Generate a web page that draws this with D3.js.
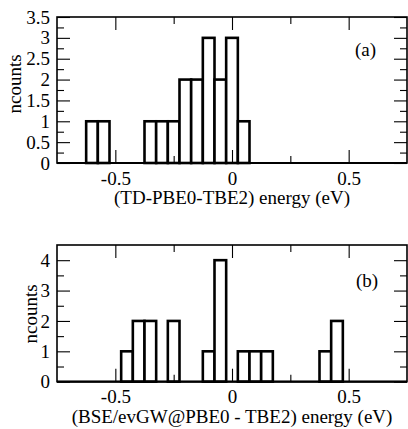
<!DOCTYPE html>
<html>
<head>
<meta charset="utf-8">
<script src="https://cdn.jsdelivr.net/npm/d3@7"></script>
<style>
  html, body { margin: 0; padding: 0; background: #fff; }
  svg { display: block; }
  text { font-family: "Liberation Serif", "Times New Roman", serif; fill: #000; }
</style>
</head>
<body>
<svg id="chart" width="408" height="429" font-family="Liberation Serif, serif"></svg>
<script>
// ---- data ----
const binWidth = 0.05;
const binCentersA = [-0.6, -0.55, -0.35, -0.3, -0.25, -0.2, -0.15, -0.1, -0.05, 0, 0.05];
const countsA     = [1, 1, 1, 1, 1, 2, 2, 3, 2, 3, 1];
const binCentersB = [-0.45, -0.4, -0.35, -0.25, -0.1, -0.05, 0.05, 0.1, 0.15, 0.4, 0.45];
const countsB     = [1, 2, 2, 2, 1, 4, 1, 1, 1, 1, 2];

const xMajor = [-0.5, 0, 0.5];
const xMinor = [-0.25, 0.25];
const yMajorA = [0, 0.5, 1, 1.5, 2, 2.5, 3, 3.5];
const yMinorA = [0.25, 0.75, 1.25, 1.75, 2.25, 2.75, 3.25];
const yMajorB = [0, 1, 2, 3, 4];
const yMinorB = [0.5, 1.5, 2.5, 3.5];

const xTitleA = "(TD-PBE0-TBE2) energy (eV)";
const xTitleB = "(BSE/evGW@PBE0 - TBE2) energy (eV)";
const yTitle = "ncounts";
const labelA = "(a)";
const labelB = "(b)";

// ---- drawing ----
const svg = d3.select("#chart");
const FS = 19;
const SERIF = '"Liberation Serif", "Times New Roman", serif';
const majorLen = 13, minorLen = 7;

function panel(cfg) {
  const x = d3.scaleLinear().domain([-0.75, 0.75]).range([57, 407]);
  const y = d3.scaleLinear().domain(cfg.yDomain).range([cfg.bottom, cfg.top]);
  const g = svg.append("g");

  // bars
  const bars = cfg.centers.map((c, i) => ({ c, n: cfg.counts[i] }));
  g.selectAll("rect.bar").data(bars).join("rect")
    .attr("class", "bar")
    .attr("x", d => x(d.c - binWidth / 2))
    .attr("width", d => x(d.c + binWidth / 2) - x(d.c - binWidth / 2))
    .attr("y", d => y(d.n))
    .attr("height", d => y(0) - y(d.n))
    .attr("fill", "#fff")
    .attr("stroke", "#000")
    .attr("stroke-width", 2.6);

  function styleAxis(sel) {
    sel.attr("font-family", null);
    sel.select(".domain").remove();
    sel.selectAll("line").attr("stroke", "#000").attr("stroke-width", 1.1);
    sel.selectAll("text").style("font-size", FS + "px").style("font-family", SERIF);
  }

  const fmt = d => String(d);

  // bottom axis
  g.append("g").attr("transform", `translate(0,${y(0)})`)
    .call(d3.axisBottom(x).tickValues(xMajor).tickSizeInner(-majorLen).tickSizeOuter(0).tickPadding(cfg.xPad).tickFormat(fmt))
    .call(styleAxis);
  g.append("g").attr("transform", `translate(0,${y(0)})`)
    .call(d3.axisBottom(x).tickValues(xMinor).tickSizeInner(-minorLen).tickSizeOuter(0).tickFormat(""))
    .call(styleAxis);
  // top axis (mirror)
  g.append("g").attr("transform", `translate(0,${cfg.top})`)
    .call(d3.axisTop(x).tickValues(xMajor).tickSizeInner(-majorLen).tickSizeOuter(0).tickFormat(""))
    .call(styleAxis);
  g.append("g").attr("transform", `translate(0,${cfg.top})`)
    .call(d3.axisTop(x).tickValues(xMinor).tickSizeInner(-minorLen).tickSizeOuter(0).tickFormat(""))
    .call(styleAxis);
  // left axis
  g.append("g").attr("transform", `translate(${x.range()[0]},0)`)
    .call(d3.axisLeft(y).tickValues(cfg.yMajor).tickSizeInner(-majorLen).tickSizeOuter(0).tickPadding(7).tickFormat(fmt))
    .call(styleAxis);
  g.append("g").attr("transform", `translate(${x.range()[0]},0)`)
    .call(d3.axisLeft(y).tickValues(cfg.yMinor).tickSizeInner(-minorLen).tickSizeOuter(0).tickFormat(""))
    .call(styleAxis);
  // right axis (mirror)
  g.append("g").attr("transform", `translate(${x.range()[1]},0)`)
    .call(d3.axisRight(y).tickValues(cfg.yMajor).tickSizeInner(-majorLen).tickSizeOuter(0).tickFormat(""))
    .call(styleAxis);
  g.append("g").attr("transform", `translate(${x.range()[1]},0)`)
    .call(d3.axisRight(y).tickValues(cfg.yMinor).tickSizeInner(-minorLen).tickSizeOuter(0).tickFormat(""))
    .call(styleAxis);

  // frame
  g.append("rect")
    .attr("x", x.range()[0]).attr("y", cfg.top)
    .attr("width", x.range()[1] - x.range()[0])
    .attr("height", cfg.bottom - cfg.top)
    .attr("fill", "none").attr("stroke", "#000").attr("stroke-width", 1.6);

  // baseline of histogram
  g.append("line")
    .attr("x1", x.range()[0]).attr("x2", x.range()[1])
    .attr("y1", y(0)).attr("y2", y(0))
    .attr("stroke", "#000").attr("stroke-width", 2.2);

  // titles
  g.append("text")
    .attr("x", (x.range()[0] + x.range()[1]) / 2)
    .attr("y", cfg.xTitleY)
    .attr("text-anchor", "middle")
    .style("font-size", FS + "px").style("font-family", SERIF)
    .text(cfg.xTitle);
  g.append("text")
    .attr("transform", `translate(${cfg.yTitleX},${cfg.yTitleCY}) rotate(-90)`)
    .attr("text-anchor", "middle")
    .style("font-size", FS + "px").style("font-family", SERIF)
    .text(yTitle);
  g.append("text")
    .attr("x", cfg.labelX).attr("y", cfg.labelY)
    .style("font-size", FS + "px").style("font-family", SERIF)
    .text(cfg.label);
}

panel({
  top: 17, bottom: 163, yDomain: [0, 3.5],
  centers: binCentersA, counts: countsA,
  yMajor: yMajorA, yMinor: yMinorA, xPad: 8.5,
  xTitle: xTitleA, xTitleY: 204,
  yTitleX: 21, yTitleCY: 84,
  label: labelA, labelX: 355, labelY: 56
});
panel({
  top: 245, bottom: 381.7, yDomain: [0, 4.5],
  centers: binCentersB, counts: countsB,
  yMajor: yMajorB, yMinor: yMinorB, xPad: 7.5,
  xTitle: xTitleB, xTitleY: 423,
  yTitleX: 37, yTitleCY: 314,
  label: labelB, labelX: 356, labelY: 287
});
</script>
</body>
</html>
